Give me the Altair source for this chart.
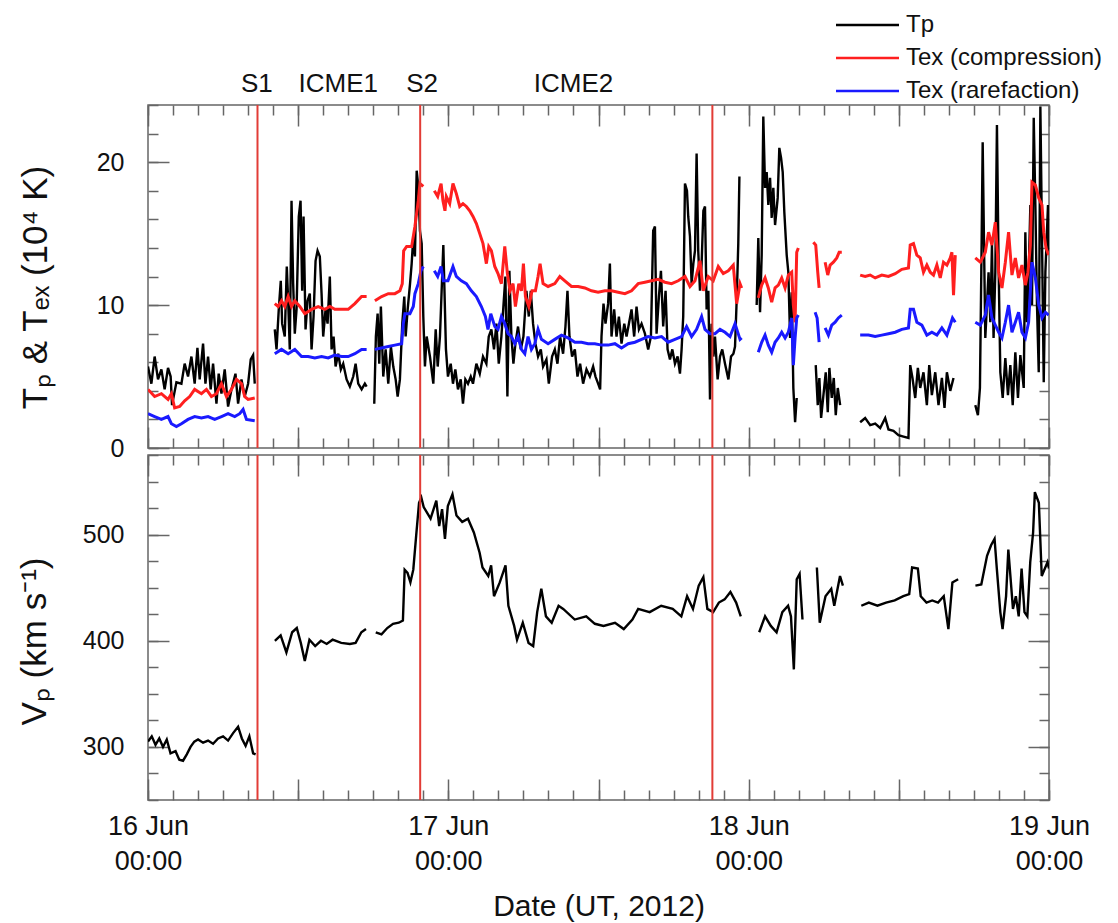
import json
import altair as alt
import pandas as pd

# ---------------- data (hours after 2012-06-16 00:00 UT) ----------------
TP = [
    (0.00, 5.7), (0.27, 4.5), (0.53, 6.4), (0.80, 4.8), (1.07, 5.5), (1.33, 4.1), (1.60, 5.6), (1.81, 5.0),
    (1.92, 3.0), (2.27, 4.6), (2.67, 4.5), (2.93, 5.9), (3.20, 5.0), (3.47, 6.4), (3.73, 4.5), (3.95, 7.0),
    (4.13, 4.8), (4.40, 7.3), (4.59, 4.5), (4.80, 6.4), (5.01, 4.1), (5.20, 5.9), (5.47, 3.1), (5.65, 5.2),
    (5.87, 3.8), (6.13, 5.5), (6.40, 2.9), (6.67, 4.1), (6.99, 5.2), (7.20, 3.1), (7.47, 4.8), (7.73, 3.6),
    (8.00, 4.5), (8.21, 6.2), (8.40, 6.5), (8.53, 4.5),
    None,
    (10.13, 8.3), (10.27, 6.9), (10.45, 9.7), (10.61, 11.7), (10.72, 8.7), (10.93, 7.8), (11.09, 12.7),
    (11.20, 10.3), (11.33, 6.9), (11.47, 17.3), (11.60, 11.5), (11.73, 8.0), (11.87, 9.7), (12.05, 16.2),
    (12.19, 17.3), (12.32, 11.0), (12.43, 16.2), (12.59, 8.3), (12.75, 10.3), (12.93, 10.8), (13.07, 6.9),
    (13.23, 9.2), (13.39, 13.1), (13.55, 13.8), (13.73, 13.4), (13.87, 10.8), (14.00, 7.8), (14.19, 9.7),
    (14.35, 8.7), (14.53, 12.0), (14.67, 6.9), (14.83, 7.8), (14.99, 5.7), (15.20, 6.6), (15.41, 5.5),
    (15.60, 5.9), (15.87, 4.8), (16.13, 4.3), (16.40, 5.0), (16.59, 5.9), (16.80, 4.5), (17.07, 4.1),
    (17.33, 4.5), (17.47, 4.3),
    None,
    (18.08, 3.1), (18.21, 7.8), (18.35, 9.4), (18.48, 5.9), (18.61, 9.9), (18.80, 5.0), (18.99, 6.9),
    (19.20, 4.5), (19.41, 7.1), (19.60, 5.7), (19.79, 4.8), (19.95, 3.6), (20.13, 4.8), (20.32, 8.7),
    (20.48, 10.6), (20.59, 7.8), (20.75, 9.7), (20.94, 11.5), (21.07, 12.9), (21.20, 14.8), (21.33, 13.4),
    (21.47, 19.4), (21.60, 18.3), (21.73, 15.2), (21.87, 14.3), (22.00, 9.2), (22.13, 5.7), (22.27, 7.8),
    (22.53, 6.4), (22.80, 4.5), (22.99, 8.3), (23.15, 5.7), (23.33, 7.8), (23.60, 14.2), (23.81, 6.9),
    (23.97, 5.0), (24.19, 5.9), (24.37, 4.5), (24.56, 5.5), (24.77, 4.1), (24.99, 4.8), (25.17, 3.1),
    (25.36, 4.8), (25.57, 4.5), (25.79, 5.0), (25.97, 4.5), (26.24, 5.9), (26.51, 5.2), (26.77, 6.4),
    (27.04, 5.9), (27.23, 7.8), (27.44, 8.3), (27.65, 6.9), (27.84, 8.7), (28.03, 5.9), (28.24, 7.8),
    (28.40, 9.9), (28.56, 12.0), (28.72, 3.6), (28.88, 12.4), (29.04, 7.8), (29.20, 5.9), (29.36, 7.3),
    (29.57, 8.5), (29.79, 6.9), (30.00, 7.8), (30.24, 11.0), (30.43, 9.2), (30.59, 11.0), (30.77, 8.7),
    (30.96, 7.3), (31.17, 6.4), (31.39, 6.9), (31.57, 5.7), (31.84, 6.2), (32.03, 4.5), (32.29, 6.4),
    (32.51, 6.9), (32.72, 5.9), (32.93, 7.8), (33.17, 6.6), (33.36, 8.5), (33.52, 11.0), (33.68, 7.8),
    (33.89, 6.4), (34.11, 6.9), (34.32, 5.0), (34.53, 5.9), (34.77, 4.5), (35.04, 5.5), (35.31, 5.0),
    (35.57, 5.7), (35.76, 5.0), (35.97, 4.5), (36.13, 4.1), (36.24, 7.8), (36.40, 10.1), (36.56, 8.7),
    (36.77, 10.1), (36.91, 12.9), (37.04, 7.8), (37.25, 9.7), (37.44, 7.8), (37.63, 9.2), (37.84, 7.3),
    (38.06, 8.7), (38.24, 7.8), (38.43, 8.7), (38.64, 9.7), (38.85, 7.8), (39.04, 9.9), (39.23, 8.3),
    (39.44, 8.7), (39.71, 8.0), (39.97, 6.9), (40.19, 7.8), (40.37, 15.2), (40.51, 15.5), (40.64, 8.0),
    (40.83, 10.6), (40.99, 12.4), (41.17, 8.5), (41.36, 11.0), (41.52, 6.9), (41.71, 6.2), (41.90, 6.9),
    (42.11, 5.9), (42.32, 6.4), (42.51, 5.2), (42.64, 6.9), (42.77, 9.2), (42.91, 18.5), (43.07, 18.0),
    (43.17, 16.2), (43.31, 14.8), (43.44, 11.5), (43.58, 12.9), (43.71, 13.8), (43.84, 20.6), (43.97, 13.8),
    (44.11, 11.0), (44.24, 12.9), (44.38, 16.6), (44.51, 16.9), (44.64, 9.7), (44.78, 11.0), (44.91, 3.4),
    (45.04, 8.7), (45.18, 6.4), (45.31, 7.8), (45.52, 4.8), (45.71, 6.4), (45.89, 6.9), (46.11, 5.9),
    (46.38, 4.8), (46.59, 6.4), (46.78, 6.6), (46.91, 7.1), (47.04, 10.3), (47.17, 14.3), (47.26, 19.0),
    None,
    (48.64, 10.0), (48.77, 14.7), (48.91, 9.5), (49.04, 13.5), (49.17, 23.2), (49.31, 18.2), (49.44, 19.3),
    (49.57, 17.0), (49.71, 18.9), (49.84, 16.1), (49.97, 18.2), (50.11, 15.6), (50.32, 17.5), (50.45, 21.0),
    (50.59, 20.3), (50.72, 19.3), (50.85, 16.5), (51.04, 13.5), (51.17, 12.3), (51.31, 7.7), (51.44, 10.9),
    (51.57, 4.2), (51.71, 1.8), (51.84, 3.5),
    None,
    (53.36, 5.8), (53.52, 3.0), (53.65, 4.9), (53.79, 2.1), (54.16, 5.3), (54.32, 2.5), (54.45, 5.6),
    (54.64, 3.5), (54.80, 4.9), (54.96, 2.3), (55.12, 4.2), (55.31, 3.0),
    None,
    (56.91, 1.8), (57.31, 2.1), (57.71, 1.6), (58.11, 1.7), (58.51, 1.4), (58.91, 2.1), (59.17, 1.3),
    (59.57, 1.2), (59.97, 0.9), (60.37, 0.8), (60.77, 0.7), (60.91, 5.8), (61.09, 4.9), (61.31, 3.5),
    (61.52, 5.6), (61.71, 4.2), (61.97, 5.3), (62.24, 3.0), (62.43, 5.8), (62.64, 3.7), (62.91, 5.3),
    (63.17, 3.0), (63.44, 4.9), (63.65, 2.8), (63.84, 5.3), (64.11, 4.0), (64.37, 4.9),
    None,
    (66.11, 3.0), (66.32, 2.3), (66.48, 4.2), (66.59, 12.3), (66.70, 21.4), (66.80, 14.7), (66.91, 7.7),
    (67.04, 10.0), (67.17, 12.3), (67.31, 8.8), (67.44, 14.2), (67.57, 7.7), (67.71, 12.3), (67.84, 22.6),
    (67.98, 12.3), (68.11, 5.3), (68.30, 3.5), (68.51, 6.3), (68.72, 3.7), (68.91, 5.8), (69.10, 3.0),
    (69.31, 6.7), (69.52, 3.5), (69.71, 6.5), (69.98, 4.2), (70.11, 15.1), (70.24, 8.8), (70.38, 12.3),
    (70.51, 17.0), (70.64, 10.0), (70.78, 23.1), (70.91, 17.0), (71.04, 10.0), (71.18, 5.3), (71.31, 23.9),
    (71.44, 14.7), (71.58, 4.6), (71.71, 12.3), (71.92, 17.0), (72.00, 13.5),
]

TEX_COMP = [
    (0.00, 4.1), (0.53, 3.6), (1.07, 3.8), (1.60, 3.4), (1.87, 3.8), (2.13, 2.8), (2.53, 2.9), (2.93, 3.3),
    (3.33, 3.6), (3.73, 4.1), (4.27, 3.8), (4.67, 4.1), (5.07, 3.6), (5.47, 3.8), (5.87, 4.5), (6.27, 3.6),
    (6.67, 4.1), (7.07, 4.8), (7.47, 4.5), (7.73, 3.6), (8.00, 3.4), (8.53, 3.5),
    None,
    (10.13, 10.1), (10.40, 9.9), (10.67, 10.3), (10.93, 9.9), (11.20, 10.6), (11.47, 9.9), (11.73, 10.3),
    (12.13, 9.9), (12.53, 9.4), (13.07, 9.7), (13.60, 9.9), (14.13, 9.7), (14.53, 9.9), (14.93, 9.7),
    (15.47, 9.7), (16.00, 9.7), (16.53, 10.1), (17.07, 10.6), (17.47, 10.6),
    None,
    (18.13, 10.3), (18.67, 10.6), (19.20, 10.8), (19.73, 10.8), (20.13, 11.0), (20.32, 11.5), (20.43, 13.8),
    (20.67, 14.1), (21.07, 14.1), (21.33, 15.5), (21.60, 17.3), (21.73, 18.5), (22.00, 18.3),
    None,
    (22.88, 18.0), (23.15, 17.6), (23.42, 18.5), (23.57, 17.3), (23.73, 16.6), (23.84, 17.6), (24.11, 17.1),
    (24.37, 18.5), (24.64, 17.8), (24.91, 16.9), (25.17, 17.1), (25.44, 16.9), (25.71, 16.6), (25.97, 16.2),
    (26.24, 15.7), (26.51, 15.0), (26.77, 14.3), (27.04, 12.9), (27.23, 14.1), (27.44, 13.8), (27.71, 12.7),
    (27.97, 12.2), (28.24, 11.5), (28.51, 14.1), (28.72, 12.2), (28.93, 11.0), (29.17, 11.5), (29.36, 9.9),
    (29.63, 11.5), (29.84, 11.0), (30.00, 12.9), (30.16, 10.6), (30.43, 9.9), (30.69, 11.0), (30.96, 11.0),
    (31.17, 12.0), (31.33, 12.9), (31.57, 11.5), (31.97, 11.3), (32.51, 11.5), (32.91, 12.0), (33.31, 11.7),
    (33.84, 11.3), (34.37, 11.3), (34.91, 11.2), (35.44, 11.0), (35.97, 10.9), (36.51, 11.0), (37.04, 11.0),
    (37.57, 10.9), (38.11, 10.8), (38.64, 11.0), (39.17, 11.5), (39.71, 11.6), (40.24, 11.7), (40.77, 11.8),
    (41.31, 11.6), (41.84, 11.5), (42.37, 11.7), (42.91, 12.0), (43.31, 11.3), (43.71, 11.7), (44.11, 13.1),
    (44.37, 11.0), (44.77, 12.0), (45.17, 11.7), (45.57, 12.7), (45.97, 12.2), (46.37, 12.4), (46.77, 12.8),
    (47.04, 10.1), (47.31, 11.5), (47.44, 11.2),
    None,
    (48.77, 10.5), (49.04, 11.4), (49.31, 11.9), (49.57, 11.2), (49.84, 10.2), (50.11, 11.2), (50.37, 11.4),
    (50.64, 11.9), (50.91, 11.2), (51.17, 12.1), (51.44, 12.3), (51.57, 10.0), (51.71, 8.8), (51.84, 13.7),
    (51.97, 14.0),
    None,
    (53.17, 14.4), (53.36, 14.2), (53.52, 12.3), (53.63, 11.2),
    None,
    (54.11, 13.0), (54.32, 12.1), (54.51, 12.8), (54.77, 13.0), (55.04, 13.3), (55.23, 13.7), (55.44, 13.7),
    None,
    (56.91, 12.1), (57.31, 12.0), (57.71, 12.1), (58.11, 11.9), (58.64, 12.1), (59.17, 12.0), (59.71, 12.2),
    (60.24, 12.5), (60.77, 12.6), (60.91, 14.2), (61.17, 14.3), (61.44, 13.5), (61.71, 13.3), (61.97, 12.3),
    (62.24, 12.8), (62.51, 12.3), (62.77, 12.1), (63.04, 12.8), (63.31, 11.9), (63.57, 13.0), (63.84, 12.8),
    (64.11, 13.3), (64.24, 13.7), (64.37, 10.7), (64.51, 13.5),
    None,
    (66.11, 13.3), (66.51, 13.0), (66.91, 13.7), (67.17, 15.1), (67.44, 14.2), (67.71, 15.8), (67.98, 12.3),
    (68.24, 11.2), (68.51, 13.0), (68.77, 15.1), (69.04, 12.1), (69.31, 13.3), (69.57, 11.9), (69.84, 12.8),
    (70.11, 11.4), (70.32, 12.3), (70.51, 14.2), (70.64, 18.6), (70.91, 18.4), (71.18, 17.5), (71.44, 17.0),
    (71.58, 15.1), (71.76, 14.0), (71.97, 13.5),
]

TEX_RARE = [
    (0.00, 2.4), (0.53, 2.2), (1.07, 2.0), (1.60, 2.2), (1.87, 1.7), (2.27, 1.5), (2.67, 1.7), (3.20, 2.0),
    (3.73, 2.2), (4.27, 2.1), (4.80, 2.2), (5.33, 2.0), (5.87, 2.2), (6.40, 2.4), (6.93, 2.2), (7.33, 2.4),
    (7.60, 2.7), (7.87, 2.0), (8.53, 1.9),
    None,
    (10.13, 6.6), (10.67, 6.9), (11.20, 6.6), (11.73, 6.9), (12.27, 6.4), (12.80, 6.4), (13.33, 6.3),
    (13.87, 6.4), (14.40, 6.3), (14.93, 6.5), (15.47, 6.4), (16.00, 6.4), (16.53, 6.6), (17.07, 6.9),
    (17.47, 6.9),
    None,
    (18.13, 6.9), (18.67, 7.0), (19.20, 7.1), (19.73, 7.2), (20.27, 7.3), (20.40, 8.7), (20.53, 9.4),
    (20.93, 9.4), (21.20, 9.9), (21.33, 10.8), (21.60, 11.5), (21.81, 12.4), (22.00, 12.7),
    None,
    (22.88, 12.4), (23.15, 12.0), (23.42, 12.7), (23.60, 11.7), (23.97, 11.7), (24.37, 12.7), (24.64, 12.0),
    (25.04, 11.7), (25.44, 11.5), (25.84, 11.0), (26.24, 10.6), (26.64, 9.9), (26.96, 9.2), (27.17, 8.3),
    (27.39, 9.4), (27.71, 8.5), (27.97, 8.3), (28.24, 9.2), (28.51, 8.7), (28.77, 8.0), (29.04, 7.8),
    (29.31, 7.3), (29.57, 7.8), (29.84, 6.9), (30.11, 6.6), (30.37, 7.8), (30.64, 6.9), (30.91, 7.3),
    (31.17, 8.3), (31.44, 7.6), (31.97, 7.3), (32.51, 7.6), (33.04, 7.9), (33.57, 7.7), (34.11, 7.4),
    (34.64, 7.4), (35.17, 7.3), (35.71, 7.3), (36.24, 7.2), (36.77, 7.2), (37.31, 7.3), (37.84, 7.0),
    (38.37, 7.3), (38.91, 7.4), (39.44, 7.6), (39.97, 7.8), (40.51, 7.7), (41.04, 7.8), (41.57, 7.4),
    (42.11, 7.6), (42.64, 7.8), (43.04, 8.5), (43.44, 7.8), (43.84, 8.3), (44.24, 9.2), (44.51, 8.3),
    (44.91, 8.0), (45.31, 8.0), (45.71, 8.3), (46.11, 8.1), (46.51, 7.8), (46.91, 8.7), (47.31, 7.6),
    (47.44, 7.7),
    None,
    (48.77, 6.7), (49.04, 7.4), (49.31, 7.9), (49.57, 7.2), (49.84, 6.7), (50.11, 7.4), (50.37, 7.7),
    (50.64, 8.1), (50.91, 7.7), (51.17, 8.1), (51.44, 9.1), (51.57, 5.8), (51.71, 7.7), (51.84, 9.1),
    (51.97, 9.3),
    None,
    (53.31, 9.5), (53.47, 9.1), (53.63, 7.4),
    None,
    (54.11, 8.4), (54.37, 7.9), (54.64, 8.6), (54.91, 8.8), (55.17, 9.1), (55.44, 9.3),
    None,
    (56.91, 7.9), (57.57, 7.9), (58.11, 7.8), (58.64, 7.9), (59.17, 8.0), (59.71, 8.1), (60.24, 8.3),
    (60.77, 8.4), (60.91, 9.7), (61.17, 9.7), (61.44, 8.8), (61.84, 8.6), (62.24, 7.9), (62.64, 8.1),
    (63.04, 7.9), (63.44, 8.4), (63.84, 7.9), (64.11, 8.6), (64.29, 9.1), (64.51, 8.8),
    None,
    (66.11, 8.8), (66.51, 8.6), (66.91, 9.3), (67.17, 10.7), (67.44, 9.1), (67.71, 8.6), (67.98, 8.1),
    (68.24, 7.7), (68.51, 8.8), (68.77, 10.0), (69.04, 8.1), (69.31, 8.8), (69.57, 9.5), (69.84, 8.1),
    (70.11, 7.7), (70.37, 8.8), (70.64, 13.0), (70.91, 11.9), (71.18, 10.0), (71.44, 9.1), (71.71, 9.5),
    (71.97, 9.3),
]

VP = [
    (0.0, 305), (0.3, 310), (0.6, 302), (0.9, 308), (1.2, 300), (1.5, 307), (1.8, 294), (2.2, 296),
    (2.5, 288), (2.8, 287), (3.1, 293), (3.4, 300), (3.7, 305), (4.0, 307), (4.4, 304), (4.8, 306),
    (5.2, 303), (5.6, 308), (6.0, 310), (6.4, 306), (6.8, 313), (7.2, 319), (7.5, 308), (7.8, 301),
    (8.1, 310), (8.4, 294), (8.6, 293),
    None,
    (10.14, 400), (10.60, 405), (11.06, 389), (11.52, 408), (11.89, 412), (12.21, 398), (12.53, 381),
    (12.90, 401), (13.36, 395), (13.82, 400), (14.28, 397), (14.75, 401), (15.44, 398), (16.13, 397),
    (16.59, 398), (17.05, 408), (17.42, 411),
    None,
    (18.20, 408), (18.66, 406), (19.12, 412), (19.58, 416), (20.04, 417), (20.37, 419), (20.51, 467),
    (20.74, 464), (20.97, 455), (21.20, 467), (21.43, 499), (21.66, 530), (21.84, 535), (22.03, 526),
    (22.58, 515), (23.04, 532), (23.27, 508), (23.50, 524), (23.73, 496), (23.96, 527), (24.33, 538),
    (24.65, 518), (25.11, 512), (25.57, 515), (26.04, 502), (26.50, 483), (26.73, 469), (27.19, 461),
    (27.42, 471), (27.65, 442), (28.11, 455), (28.57, 471), (28.80, 433), (29.26, 414), (29.49, 401),
    (29.95, 417), (30.41, 398), (30.78, 395), (31.10, 427), (31.43, 449), (31.80, 423), (32.26, 417),
    (32.81, 433), (33.18, 430), (34.10, 420), (35.02, 423), (35.71, 416), (36.40, 414), (37.32, 417),
    (38.02, 411), (38.71, 420), (39.17, 430), (40.09, 427), (41.01, 433), (41.93, 430), (42.62, 423),
    (43.08, 442), (43.55, 430), (44.01, 452), (44.38, 460), (44.70, 430), (45.16, 427), (45.62, 436),
    (46.08, 439), (46.54, 446), (47.00, 436), (47.37, 423),
    None,
    (48.84, 408), (49.31, 423), (49.77, 414), (50.23, 408), (50.69, 427), (51.15, 433), (51.38, 423),
    (51.61, 373), (51.84, 458), (52.07, 463), (52.30, 420),
    None,
    (53.45, 469), (53.68, 417), (54.14, 442), (54.60, 449), (54.84, 433), (55.30, 461), (55.53, 452),
    None,
    (57.00, 433), (57.60, 436), (58.29, 433), (58.98, 436), (59.67, 438), (60.36, 442), (60.83, 444),
    (61.06, 469), (61.52, 468), (61.75, 442), (62.21, 436), (62.67, 438), (63.13, 436), (63.59, 442),
    (63.96, 411), (64.28, 455), (64.74, 458),
    None,
    (66.12, 452), (66.59, 453), (67.05, 480), (67.37, 490), (67.65, 496), (67.83, 468), (68.11, 427),
    (68.29, 411), (68.57, 442), (68.75, 486), (69.12, 430), (69.35, 442), (69.58, 423), (69.81, 468),
    (70.04, 427), (70.27, 423), (70.50, 474), (70.73, 502), (70.87, 540), (71.19, 530), (71.42, 461),
    (71.88, 474), (72.00, 468),
]

SERIES = ["Tp", "Tex (compression)", "Tex (rarefaction)"]
SERIES_COLORS = ["#000000", "#ff1f1f", "#1a1aff"]

SHOCK_HOURS = [8.75, 21.75, 45.1]
REGION_TEXT = ["S1", "ICME1", "S2", "ICME2"]
REGION_HOURS = [8.7, 15.2, 21.9, 34.0]

X_DOMAIN = [0, 72]
T_DOMAIN = [0, 24]
V_DOMAIN = [250, 575]
X_MAJOR = list(range(0, 73, 12))
X_MINOR = list(range(0, 73, 2))
DAY_LABELS = ["16 Jun", "17 Jun", "18 Jun", "19 Jun"]
DAY_TIME = "00:00"
T_MAJOR = [0, 10, 20]
T_MINOR = list(range(0, 25, 2))
V_MAJOR = [300, 400, 500]
V_MINOR = list(range(250, 576, 25))

T_TITLE = "T\u209a & T\u2091\u2093 (10\u2074 K)"
V_TITLE = "V\u209a (km s\u207b\u00b9)"
X_TITLE = "Date (UT, 2012)"


# ---------------- helpers ----------------
def to_rows(points, name):
    rows, seg = [], 0
    for p in points:
        if p is None:
            seg += 1
            continue
        rows.append({"h": p[0], "v": p[1], "series": name, "seg": f"{name}-{seg}"})
    return rows


FONT = "Liberation Sans"
FRAME = "#666666"
TXT = "#111111"
W = 901
H_TOP = 343
H_BOT = 345
MAJ = 21
MIN = 10


def axis(orient, size, values, **kw):
    base = dict(orient=orient, values=values, tickSize=size, offset=-size, domain=False,
                grid=False, ticks=True, tickColor=FRAME, tickWidth=1.5)
    if "labels" not in kw:
        base["labels"] = False
    if "title" not in kw:
        base["title"] = None
    base.update(kw)
    return alt.Axis(**base)


tp_df = pd.DataFrame(to_rows(TP, SERIES[0]))
tex_df = pd.DataFrame(to_rows(TEX_COMP, SERIES[1]) + to_rows(TEX_RARE, SERIES[2]))
vp_df = pd.DataFrame(to_rows(VP, "Vp"))
shock_df = pd.DataFrame({"h": SHOCK_HOURS})
region_df = pd.DataFrame({"h": REGION_HOURS, "label": REGION_TEXT})
legend_df = pd.DataFrame({"series": SERIES, "color": SERIES_COLORS, "row": list(range(len(SERIES)))})
frame_top = pd.DataFrame({"h": X_DOMAIN, "v": T_DOMAIN})
frame_bot = pd.DataFrame({"h": X_DOMAIN, "v": V_DOMAIN})

xs = alt.Scale(domain=X_DOMAIN, nice=False, zero=False)
ts = alt.Scale(domain=T_DOMAIN, nice=False, zero=False)
vs = alt.Scale(domain=V_DOMAIN, nice=False, zero=False)

color = alt.Color("series:N", scale=alt.Scale(domain=SERIES, range=SERIES_COLORS), legend=None)

day_expr = (
    "datum.value % 24 === 0 ? [" + json.dumps(DAY_LABELS) + "[datum.value / 24], "
    + json.dumps(DAY_TIME) + "] : ''"
)

label_style = dict(labelFont=FONT, labelColor=TXT)
title_style = dict(titleFont=FONT, titleColor=TXT, titleFontWeight="normal")

# ---------------- top panel ----------------
tp_line = alt.Chart(tp_df).mark_line(strokeWidth=2.4, clip=True).encode(
    x=alt.X("h:Q", scale=xs, axis=axis("bottom", MAJ, X_MAJOR)),
    y=alt.Y("v:Q", scale=ts, axis=axis(
        "left", MAJ, T_MAJOR, labels=True, labelFontSize=25, labelPadding=24,
        title=T_TITLE, titleFontSize=35, titleX=-123, titleY=182, titleAngle=-90,
        titleAlign="center", titleBaseline="alphabetic", **label_style, **title_style)),
    color=color,
    detail="seg:N",
)

tex_line = alt.Chart(tex_df).mark_line(strokeWidth=3, clip=True).encode(
    x=alt.X("h:Q", scale=xs, axis=axis("bottom", MIN, X_MINOR)),
    y=alt.Y("v:Q", scale=ts, axis=axis("left", MIN, T_MINOR)),
    color=color,
    detail="seg:N",
)

frame_t1 = alt.Chart(frame_top).mark_point(opacity=0).encode(
    x=alt.X("h:Q", scale=xs, axis=axis("top", MAJ, X_MAJOR)),
    y=alt.Y("v:Q", scale=ts, axis=axis("right", MAJ, T_MAJOR)),
)
frame_t2 = alt.Chart(frame_top).mark_point(opacity=0).encode(
    x=alt.X("h:Q", scale=xs, axis=axis("top", MIN, X_MINOR)),
    y=alt.Y("v:Q", scale=ts, axis=axis("right", MIN, T_MINOR)),
)

shock_top = alt.Chart(shock_df).mark_rule(color="#e23c36", strokeWidth=2).encode(
    x=alt.X("h:Q", scale=xs, axis=None)
)

region_text = alt.Chart(region_df).mark_text(
    font=FONT, fontSize=26, color=TXT, baseline="middle", align="center"
).encode(
    x=alt.X("h:Q", scale=xs, axis=None),
    y=alt.value(-21),
    text="label:N",
)

# legend drawn as rules + labels (rows 33 px apart, above the panel)
legend_base = alt.Chart(legend_df).transform_calculate(ypix="-80 + 33 * datum.row")
legend_lines = legend_base.mark_rule(strokeWidth=2.5).encode(
    x=alt.value(688), x2=alt.value(751),
    y=alt.Y("ypix:Q", scale=None, axis=None),
    color=alt.Color("color:N", scale=None, legend=None),
)
legend_text = legend_base.mark_text(
    font=FONT, fontSize=24, color=TXT, align="left", baseline="middle"
).encode(
    x=alt.value(758),
    y=alt.Y("ypix:Q", scale=None, axis=None),
    text="series:N",
)

top = alt.layer(
    tp_line, tex_line, frame_t1, frame_t2, shock_top, region_text, legend_lines, legend_text
).resolve_axis(x="independent", y="independent").properties(width=W, height=H_TOP)

# ---------------- bottom panel ----------------
vp_line = alt.Chart(vp_df).mark_line(strokeWidth=2.4, color="#000000", clip=True).encode(
    x=alt.X("h:Q", scale=xs, axis=axis(
        "bottom", MAJ, X_MAJOR, labels=True, labelExpr=day_expr, labelFontSize=27,
        labelPadding=13, labelLineHeight=35, labelFlush=False, labelOverlap=False,
        title=X_TITLE, titleFontSize=30, titlePadding=17, **label_style, **title_style)),
    y=alt.Y("v:Q", scale=vs, axis=axis(
        "left", MAJ, V_MAJOR, labels=True, labelFontSize=25, labelPadding=24,
        title=V_TITLE, titleFontSize=35, titleX=-124, titleY=186, titleAngle=-90,
        titleAlign="center", titleBaseline="alphabetic", **label_style, **title_style)),
    detail="seg:N",
)

frame_b0 = alt.Chart(frame_bot).mark_point(opacity=0).encode(
    x=alt.X("h:Q", scale=xs, axis=axis("bottom", MIN, X_MINOR)),
    y=alt.Y("v:Q", scale=vs, axis=axis("left", MIN, V_MINOR)),
)
frame_b1 = alt.Chart(frame_bot).mark_point(opacity=0).encode(
    x=alt.X("h:Q", scale=xs, axis=axis("top", MAJ, X_MAJOR)),
    y=alt.Y("v:Q", scale=vs, axis=axis("right", MAJ, V_MAJOR)),
)
frame_b2 = alt.Chart(frame_bot).mark_point(opacity=0).encode(
    x=alt.X("h:Q", scale=xs, axis=axis("top", MIN, X_MINOR)),
    y=alt.Y("v:Q", scale=vs, axis=axis("right", MIN, V_MINOR)),
)

shock_bot = alt.Chart(shock_df).mark_rule(color="#e23c36", strokeWidth=2).encode(
    x=alt.X("h:Q", scale=xs, axis=None)
)

bottom = alt.layer(vp_line, frame_b0, frame_b1, frame_b2, shock_bot).resolve_axis(
    x="independent", y="independent"
).properties(width=W, height=H_BOT)

chart = alt.vconcat(top, bottom, spacing=7, bounds="flush").properties(
    background="white",
    padding={"left": 16, "top": 12, "right": 0, "bottom": 0},
).configure_view(
    stroke=FRAME, strokeWidth=1.5
)

chart.save("out.html", embed_options={"renderer": "svg", "actions": False})
